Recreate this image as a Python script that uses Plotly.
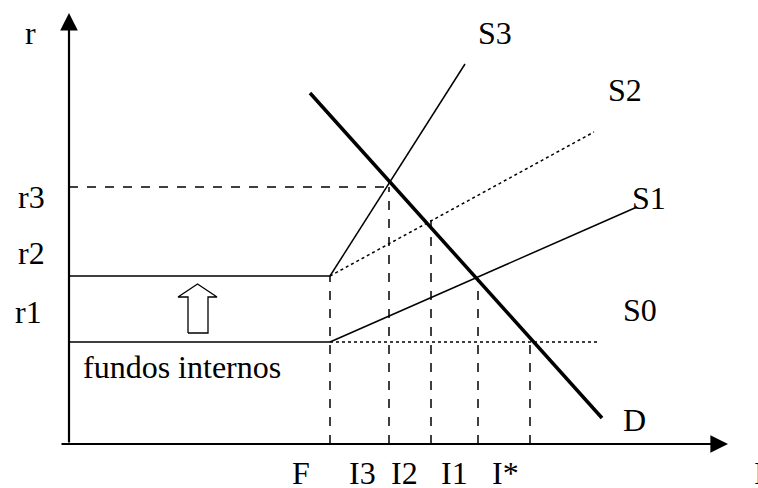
import plotly.graph_objects as go

# units: 1.0 = 100 px, origin at the axes corner
F, I3, I2, I1, I_star = 2.61, 3.20, 3.62, 4.09, 4.61
r1, r2, r3 = 1.02, 1.68, 2.57

demand_x = [2.41, 5.33]
demand_y = [3.51, 0.26]
s3_x = [F, 3.96]
s3_y = [r2, 3.80]
s2_x = [F, 5.25]
s2_y = [r2, 3.12]
s1_x = [F, 5.68]
s1_y = [r1, 2.37]
s0_x = [F, 5.31]
s0_y = [r1, r1]

# hollow arrow (internal funds shift up)
arrow_x = [1.19, 1.39, 1.39, 1.48, 1.285, 1.09, 1.19, 1.19]
arrow_y = [1.11, 1.11, 1.47, 1.47, 1.60, 1.47, 1.47, 1.11]

labels = ["r", "r3", "r2", "r1", "S3", "S2", "S1", "S0", "D",
          "F", "I3", "I2", "I1", "I*"]
label_x = [-0.39, -0.38, -0.38, -0.41, 4.26, 5.56, 5.80, 5.71, 5.65,
           2.32, 2.93, 3.35, 3.85, 4.36]
label_y = [4.11, 2.47, 1.91, 1.32, 4.11, 3.54, 2.46, 1.34, 0.24,
           -0.29, -0.29, -0.29, -0.29, -0.29]

FONT = "Liberation Serif, Times New Roman, serif"
black = "black"

fig = go.Figure()

def line(x, y, width=1.5, dash="solid"):
    fig.add_trace(go.Scatter(x=x, y=y, mode="lines",
                             line=dict(color=black, width=width, dash=dash),
                             hoverinfo="skip", showlegend=False))

# internal funds floors
line([0, F], [r2, r2])
line([0, F], [r1, r1])
# supply curves
line(s3_x, s3_y)
line(s2_x, s2_y, dash="dot")
line(s1_x, s1_y)
line(s0_x, s0_y, dash="dot")
# demand
line(demand_x, demand_y, width=3.5)

# guide lines
line([0, I3], [r3, r3], dash="dash")
line([F, F], [0, r2], dash="dash")
line([I3, I3], [0, r3], dash="dash")
line([I2, I2], [0, 2.24], dash="dash")
line([I1, I1], [0, 1.66], dash="dash")
line([I_star, I_star], [0, r1], dash="dash")

# hollow arrow
fig.add_trace(go.Scatter(x=arrow_x, y=arrow_y, mode="lines", fill="toself",
                         fillcolor="white", line=dict(color=black, width=1.3),
                         hoverinfo="skip", showlegend=False))

# axes with arrowheads
fig.add_annotation(x=0, y=4.31, ax=0, ay=0, xref="x", yref="y", axref="x", ayref="y",
                   text="", showarrow=True, arrowhead=2, arrowsize=1.6,
                   arrowwidth=2.2, arrowcolor=black)
fig.add_annotation(x=6.59, y=0, ax=-0.09, ay=0, xref="x", yref="y", axref="x", ayref="y",
                   text="", showarrow=True, arrowhead=2, arrowsize=1.6,
                   arrowwidth=2.2, arrowcolor=black)

for t, x, y in zip(labels, label_x, label_y):
    fig.add_annotation(x=x, y=y, text=t, showarrow=False,
                       font=dict(family=FONT, size=32, color=black))

fig.add_annotation(x=0.12, y=0.77, text="fundos internos", showarrow=False,
                   xanchor="left", font=dict(family=FONT, size=32, color=black))
# axis name, cut off by the right edge as in the original
fig.add_annotation(x=6.83, y=-0.29, text="I", showarrow=False, xanchor="left",
                   font=dict(family=FONT, size=32, color=black))

fig.update_xaxes(range=[-0.69, 6.89], visible=False)
fig.update_yaxes(range=[-0.44, 4.44], visible=False)
fig.update_layout(width=758, height=488, margin=dict(l=0, r=0, t=0, b=0),
                  plot_bgcolor="white", paper_bgcolor="white")

# drop the page's default body margin so the figure fills the window
fig.write_html("out.html", config={"displayModeBar": False},
               post_script="document.body.style.margin='0';")
